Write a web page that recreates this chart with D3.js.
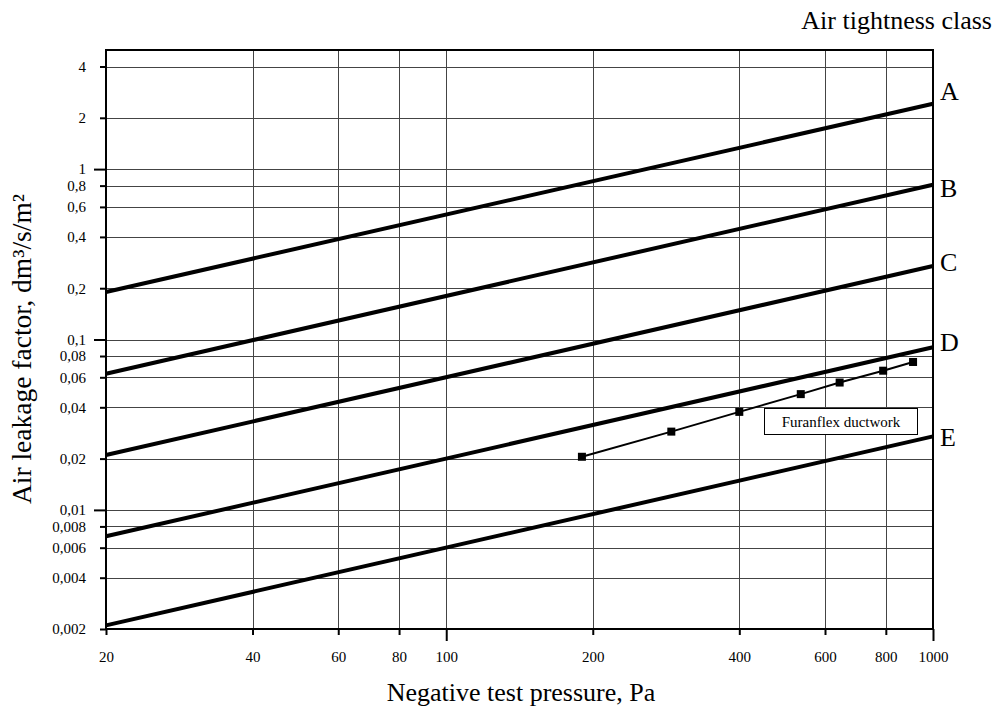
<!DOCTYPE html>
<html><head><meta charset="utf-8">
<script src="https://cdn.jsdelivr.net/npm/d3@7"></script>
<style>body{margin:0;background:#fff}svg{display:block}text{font-family:"Liberation Serif","Times New Roman",serif;fill:#000}</style>
</head><body>
<script>
const classNames = ["A","B","C","D","E"];
const pressureEnds = [20, 1000];
const classA = [0.19, 2.42];
const classB = [0.063, 0.81];
const classC = [0.021, 0.27];
const classD = [0.0070, 0.090];
const classE = [0.0021, 0.027];
const furanPressure = [190, 290, 400, 535, 643, 790, 910];
const furanLeak = [0.0205, 0.0288, 0.0376, 0.0478, 0.0559, 0.0656, 0.0738];
const xTicks = [20,40,60,80,100,200,400,600,800,1000];
const xMajor = [100,1000];
const yTicks = [4,2,1,0.8,0.6,0.4,0.2,0.1,0.08,0.06,0.04,0.02,0.01,0.008,0.006,0.004,0.002];
const yMajor = [1,0.1,0.01];

const W=995,H=708, L=106,R=933,T=50,B=629;
const svg=d3.select("body").append("svg").attr("width",W).attr("height",H);
const x=d3.scaleLog().domain([20,1000]).range([L,R]);
const y=d3.scaleLog().domain([0.002,5]).range([B,T]);
const fmt=v=>String(v).replace(".",",");

// grid
svg.append("g").selectAll("line").data(xTicks.filter(d=>d>20&&d<1000)).join("line")
 .attr("x1",d=>Math.round(x(d))+0.5).attr("x2",d=>Math.round(x(d))+0.5).attr("y1",T).attr("y2",B)
 .attr("stroke","#444").attr("stroke-width",1);
svg.append("g").selectAll("line").data(yTicks.filter(d=>d>0.002)).join("line")
 .attr("y1",d=>Math.round(y(d))+0.5).attr("y2",d=>Math.round(y(d))+0.5).attr("x1",L).attr("x2",R)
 .attr("stroke","#444").attr("stroke-width",1);

// frame
svg.append("rect").attr("x",L).attr("y",T).attr("width",R-L).attr("height",B-T)
 .attr("fill","none").attr("stroke","#000").attr("stroke-width",2);

// axes
const yAxis=d3.axisLeft(y).tickValues(yTicks).tickFormat(fmt).tickSize(6).tickPadding(8);
const gy=svg.append("g").attr("transform",`translate(${L},0)`).call(yAxis);
gy.select(".domain").remove();
gy.selectAll(".tick line").attr("stroke","#000").attr("stroke-width",2)
 .attr("x2",d=>yMajor.includes(d)?-12:-6);
gy.selectAll(".tick text").attr("x",-20).attr("font-size",15).attr("font-family","Liberation Serif");

const xAxis=d3.axisBottom(x).tickValues(xTicks).tickFormat(d=>d).tickSize(6).tickPadding(16);
const gx=svg.append("g").attr("transform",`translate(0,${B})`).call(xAxis);
gx.select(".domain").remove();
gx.selectAll(".tick line").attr("stroke","#000").attr("stroke-width",2)
 .attr("y2",d=>xMajor.includes(d)?12:6);
gx.selectAll(".tick text").attr("y",22).attr("font-size",15).attr("font-family","Liberation Serif");

// class lines
const classVals=[classA,classB,classC,classD,classE];
const labelDy=[-4,12,5,4,9.5];
const line=d3.line().x(d=>x(d[0])).y(d=>y(d[1]));
classVals.forEach((vals,i)=>{
  const pts=pressureEnds.map((p,j)=>[p,vals[j]]);
  svg.append("path").attr("d",line(pts)).attr("fill","none").attr("stroke","#000").attr("stroke-width",4);
  svg.append("text").attr("x",R+7).attr("y",y(vals[1])+labelDy[i]).attr("font-size",26).text(classNames[i]);
});

// Furanflex
const fpts=furanPressure.map((p,i)=>[p,furanLeak[i]]);
svg.append("path").attr("d",line(fpts)).attr("fill","none").attr("stroke","#000").attr("stroke-width",2);
svg.append("g").selectAll("rect").data(fpts).join("rect")
 .attr("x",d=>x(d[0])-4).attr("y",d=>y(d[1])-4).attr("width",8).attr("height",8).attr("fill","#000");

svg.append("rect").attr("x",764.5).attr("y",408.5).attr("width",153).attr("height",26)
 .attr("fill","#fff").attr("stroke","#000").attr("stroke-width",1);
svg.append("text").attr("x",841).attr("y",426.5).attr("text-anchor","middle").attr("font-size",15).text("Furanflex ductwork");

// titles
svg.append("text").attr("x",992).attr("y",29).attr("text-anchor","end").attr("font-size",26).text("Air tightness class");
svg.append("text").attr("x",521).attr("y",701).attr("text-anchor","middle").attr("font-size",26).text("Negative test pressure, Pa");
svg.append("text").attr("transform","translate(31,349) rotate(-90)").attr("text-anchor","middle").attr("font-size",27.5).text("Air leakage factor, dm³/s/m²");
</script>
</body></html>
